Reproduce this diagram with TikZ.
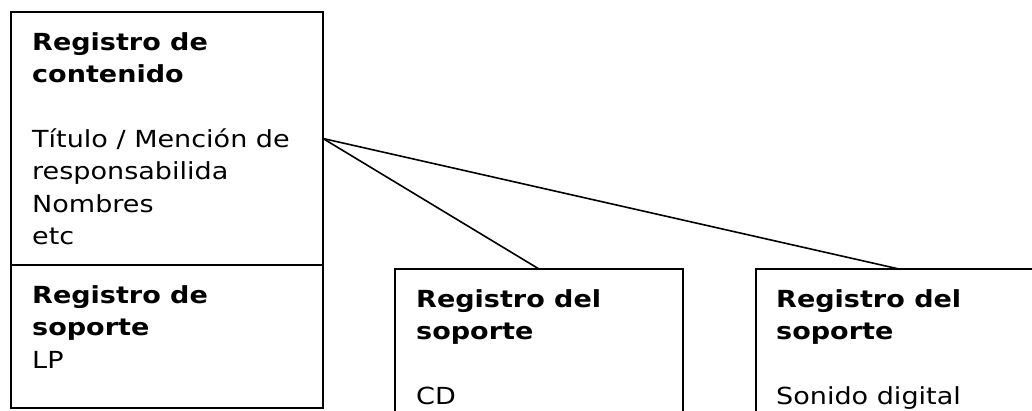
\documentclass[tikz,border=0pt]{standalone}
\usepackage{fontspec}
\setmainfont[FakeStretch=1.15]{DejaVu Sans}
\usetikzlibrary{positioning}

\tikzset{
    regbox/.style={draw, line width=1.6pt, inner sep=0pt, outer sep=0pt},
    regtxt/.style={inner sep=0pt, align=left, anchor=north west,
        font=\fontsize{23.5}{32.3}\selectfont},
    link/.style={line width=1.6pt}
}

\begin{document}
\begin{tikzpicture}[x=1pt, y=-1pt]
    \useasboundingbox (0,0) rectangle (1032,410);
    \clip (0,0) rectangle (1032,410);

    % Content record with its carrier
    \node[regbox, minimum width=312pt, minimum height=253pt, anchor=north west] (cont) at (11,12) {};
    \node[regbox, minimum width=312pt, minimum height=143pt, below=0pt of cont] (sop) {};
    \node[regtxt, below right=20.5pt and 21pt of cont.north west] (conttxt)
        {\textbf{Registro de}\\\textbf{contenido}\\[32.3pt]Título / Mención de\\responsabilida\\Nombres\\etc};
    \node[regtxt, below right=20.5pt and 21pt of sop.north west] (soptxt)
        {\textbf{Registro de}\\\textbf{soporte}\\LP};

    % Further carrier records
    \node[regbox, minimum width=288pt, minimum height=170pt, anchor=north west] (cd) at (395,269) {};
    \node[regbox, minimum width=286pt, minimum height=170pt, right=73pt of cd] (dig) {};
    \node[regtxt, below right=20.5pt and 21pt of cd.north west] (cdtxt)
        {\textbf{Registro del}\\\textbf{soporte}\\[32.3pt]CD};
    \node[regtxt, below right=20.5pt and 20pt of dig.north west] (digtxt)
        {\textbf{Registro del}\\\textbf{soporte}\\[32.3pt]Sonido digital};

    \draw[link] (cont.east) -- (cd.north);
    \draw[link] (cont.east) -- (dig.north);
\end{tikzpicture}
\end{document}
